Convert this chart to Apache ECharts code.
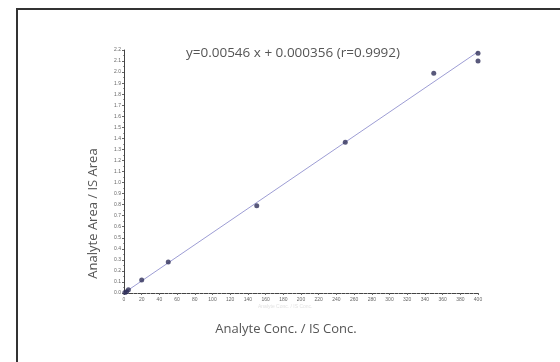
<!DOCTYPE html>
<html>
<head>
<meta charset="utf-8">
<script src="https://cdn.jsdelivr.net/npm/echarts@6/dist/echarts.min.js"></script>
<style>
  html, body { margin: 0; padding: 0; background: #fff; }
  #chart { width: 560px; height: 362px; }
</style>
</head>
<body>
<div id="chart"></div>
<script>
// calibration points
const concX = [1, 3, 5, 20, 50, 150, 250, 350, 400, 400]
const ratioY = [0.004, 0.012, 0.03, 0.117, 0.28, 0.79, 1.365, 1.99, 2.17, 2.10]
// regression line ends
const fitX = [0, 400]
const fitY = [0.000356, 2.184]
const xTicks = { min: 0, max: 400, step: 20 }
const yTicks = { min: 0, max: 2.2, step: 0.1 }
const titleText = 'y=0.00546 x + 0.000356 (r=0.9992)'

const chart = echarts.init(document.getElementById('chart'))

const axisText = { fontSize: 5, color: '#666', fontFamily: 'Liberation Sans' }

const option = {
  animation: false,
  title: {
    text: titleText,
    left: 288,
    top: 41,
    textAlign: 'center',
    textStyle: { fontSize: 13.5, fontWeight: 'normal', color: '#555', fontFamily: 'Open Sans' }
  },
  grid: { left: 124, right: 82, top: 50, bottom: 69 },
  xAxis: {
    type: 'value',
    min: xTicks.min,
    max: xTicks.max,
    interval: xTicks.step,
    name: 'Analyte Conc. / IS Conc.',
    nameLocation: 'middle',
    nameGap: 30,
    nameTextStyle: { fontSize: 13, color: '#555', fontFamily: 'Open Sans', padding: [0, 30, 0, 0] },
    axisLine: { lineStyle: { color: '#444', width: 1 } },
    axisTick: { length: 2, lineStyle: { color: '#666' } },
    minorTick: { show: true, splitNumber: 4, length: 1, lineStyle: { color: '#999' } },
    axisLabel: { ...axisText, margin: 4 },
    splitLine: { show: false }
  },
  yAxis: {
    type: 'value',
    min: yTicks.min,
    max: yTicks.max,
    interval: yTicks.step,
    name: 'Analyte Area / IS Area',
    nameLocation: 'middle',
    nameGap: 24,
    nameTextStyle: { fontSize: 13, color: '#555', fontFamily: 'Open Sans', padding: [0, 84, 0, 0] },
    axisLine: { show: true, lineStyle: { color: '#444', width: 1 } },
    axisTick: { show: true, length: 2, lineStyle: { color: '#666' } },
    minorTick: { show: true, splitNumber: 2, length: 1, lineStyle: { color: '#999' } },
    axisLabel: { ...axisText, margin: 3, formatter: v => v.toFixed(1) },
    splitLine: { show: false }
  },
  series: [
    {
      type: 'line',
      data: fitX.map((x, i) => [x, fitY[i]]),
      symbol: 'none',
      lineStyle: { color: '#9d9dd4', width: 1 },
      z: 1
    },
    {
      type: 'scatter',
      data: concX.map((x, i) => [x, ratioY[i]]),
      symbolSize: 5,
      itemStyle: { color: '#2f2f5a' },
      z: 2
    }
  ],
  graphic: [
    {
      type: 'rect',
      shape: { x: 17, y: 9, width: 700, height: 500 },
      style: { fill: 'none', stroke: '#333', lineWidth: 2 },
      silent: true
    },
    {
      type: 'text',
      left: 258,
      top: 304,
      style: { text: 'Analyte Conc. / IS Conc.', fontSize: 5, fill: '#e2e2e2' },
      silent: true
    }
  ]
}

chart.setOption(option)
</script>
</body>
</html>
